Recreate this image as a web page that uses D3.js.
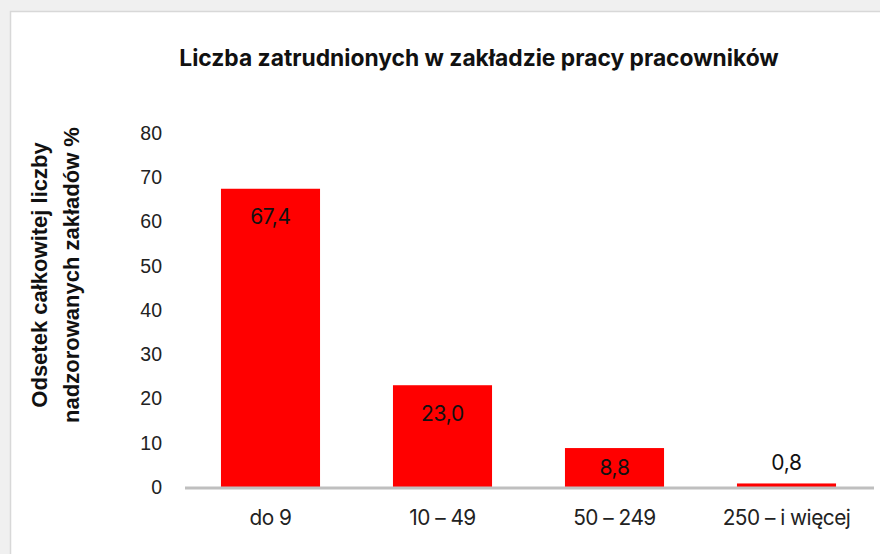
<!DOCTYPE html>
<html><head><meta charset="utf-8">
<script src="https://cdn.jsdelivr.net/npm/d3@7"></script>
<style>
html,body{margin:0;padding:0;background:#f0f0f0;overflow:hidden}
svg{display:block}
</style></head>
<body>
<svg id="chart" width="880" height="554"></svg>
<script>
const categories = ["do 9", "10 – 49", "50 – 249", "250 – i więcej"];
const values = [67.4, 23.0, 8.8, 0.8];
const valueLabels = ["67,4", "23,0", "8,8", "0,8"];
const yTicks = [0, 10, 20, 30, 40, 50, 60, 70, 80];
const title = "Liczba zatrudnionych w zakładzie pracy pracowników";
const yTitle = ["Odsetek całkowitej liczby", "nadzorowanych zakładów %"];

const svg = d3.select("#chart");
svg.append("rect").attr("x", 10.5).attr("y", 11.5).attr("width", 900).attr("height", 600)
  .attr("fill", "#fff").attr("stroke", "#d8d8d8").attr("stroke-width", 1.5);

const x = d3.scaleBand().domain(categories).range([184.5, 872.5]).paddingInner(0.424).paddingOuter(0.212);
const y = d3.scaleLinear().domain([0, 80]).range([487, 133]);

svg.append("text").attr("x", 479).attr("y", 66).attr("text-anchor", "middle")
  .attr("font-family", "Inter, Roboto, sans-serif").attr("font-weight", 700).attr("font-size", 22.8)
  .attr("fill", "#111").text(title);

// y tick labels
const yAxis = d3.axisLeft(y).tickValues(yTicks).tickSize(0).tickPadding(0);
const gy = svg.append("g").attr("transform", "translate(162,0)").call(yAxis);
gy.select(".domain").remove();
gy.selectAll("text").attr("font-family", "'Liberation Sans', Arial, sans-serif").attr("font-size", 19.5).attr("fill", "#222");

// bars
svg.append("g").selectAll("rect").data(values).join("rect")
  .attr("x", (d, i) => x(categories[i])).attr("width", x.bandwidth())
  .attr("y", d => y(d)).attr("height", d => y(0) - y(d)).attr("fill", "#ff0000");

// axis line
const xAxis = d3.axisBottom(x).tickSize(0).tickPadding(22);
const gx = svg.append("g").attr("transform", `translate(0,${y(0) + 1})`).call(xAxis);
gx.select(".domain").attr("stroke", "#bfbfbf").attr("stroke-width", 3).attr("d", "M185,0H874");
gx.selectAll("text").attr("font-family", "Inter, 'Liberation Sans', Arial, sans-serif")
  .attr("font-size", 20.8).attr("letter-spacing", "-0.5px").attr("fill", "#222");

// value labels
svg.append("g").selectAll("text").data(values).join("text")
  .attr("x", (d, i) => x(categories[i]) + x.bandwidth() / 2)
  .attr("y", d => {
    const h = y(0) - y(d);
    if (h < 20) return y(d) - 21;
    return y(d) + Math.min(28, h / 2);
  })
  .attr("dy", "0.35em").attr("text-anchor", "middle")
  .attr("font-family", "Inter, 'Liberation Sans', Arial, sans-serif").attr("font-size", 21)
  .attr("letter-spacing", "-0.3px").attr("fill", "#111")
  .text((d, i) => valueLabels[i]);

// y title
const yt = svg.append("text").attr("transform", "translate(58,275) rotate(-90)")
  .attr("text-anchor", "middle").attr("font-family", "'Liberation Sans', Arial, sans-serif")
  .attr("font-weight", 700).attr("font-size", 22).attr("fill", "#111");
yt.selectAll("tspan").data(yTitle).join("tspan").attr("x", 0).attr("dy", (d, i) => i === 0 ? "-0.5em" : "1.45em").text(d => d);
</script>
</body></html>
